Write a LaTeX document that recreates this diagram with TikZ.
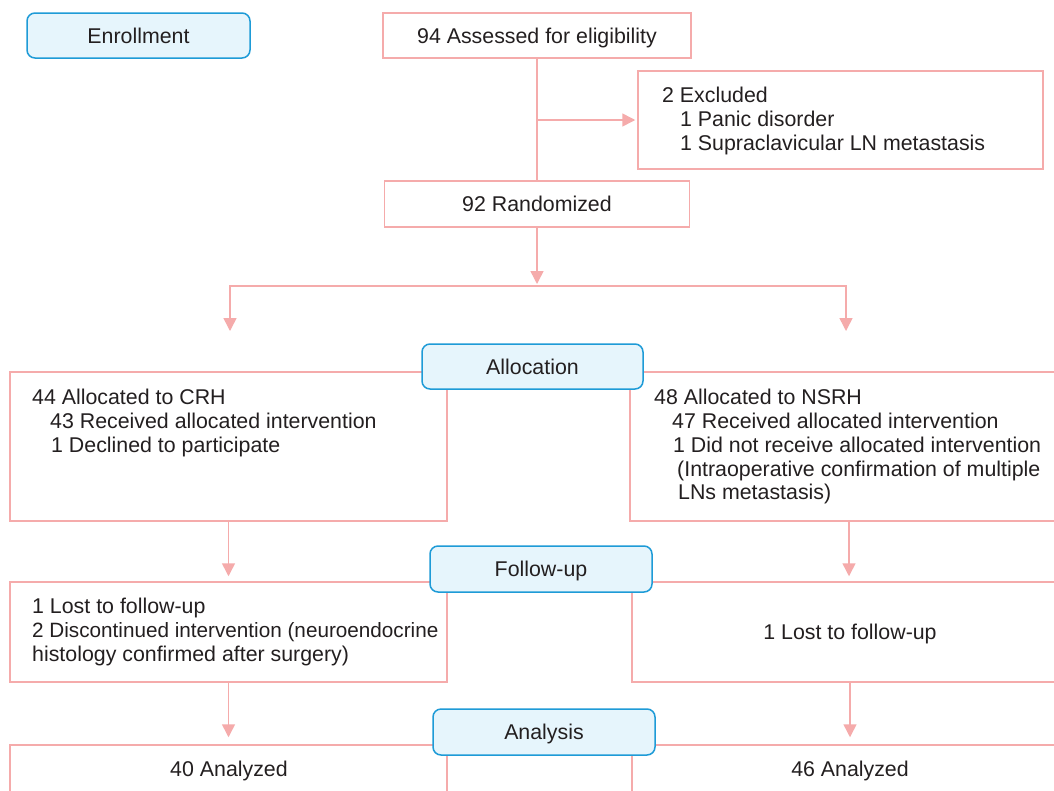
\documentclass[tikz,border=0pt]{standalone}
\usepackage{fontspec}
\setmainfont{Liberation Sans}
\usetikzlibrary{arrows.meta}
\definecolor{pinkline}{HTML}{F5ABAB}
\definecolor{blueline}{HTML}{1E9BD7}
\definecolor{bluefill}{HTML}{E6F5FC}
\definecolor{txt}{HTML}{231F20}
\newcommand{\diagfont}{\fontsize{21.35}{24}\selectfont}
\begin{document}
\begin{tikzpicture}[x=1pt,y=-1pt,
  pbox/.style={draw=pinkline,line width=1.5pt,rectangle,inner sep=0pt,
    font=\diagfont,text=txt,text height=15pt,text depth=0pt},
  bbox/.style={draw=blueline,fill=bluefill,line width=1.5pt,rounded corners=8pt,
    minimum height=45pt,inner sep=0pt,font=\diagfont,
    text=txt,text height=15pt,text depth=0pt},
  txtn/.style={anchor=base west,inner sep=0pt,font=\diagfont,text=txt},
  ctxt/.style={anchor=base,inner sep=0pt,font=\diagfont,text=txt},
  conn/.style={draw=pinkline,line width=1.5pt},
  arr/.style={conn,-{Triangle[length=13pt,width=13pt]}},
  darr/.style={conn,{Triangle[length=13pt,width=13pt]}-{Triangle[length=13pt,width=13pt]}}]
\clip (0,0) rectangle (1054,790);
\fill[white] (0,0) rectangle (1054,790);

% top part
\node[bbox,minimum width=223pt] (enroll) at (138.5,35.5) {Enrollment};
\node[pbox,minimum width=308pt,minimum height=45pt] (assess) at (537,35.5) {94 Assessed for eligibility};
\node[pbox,minimum width=405pt,minimum height=98pt] (excl) at (840.5,120) {};
\node[txtn] (exclA) at (662,102) {2 Excluded};
\node[txtn] (exclB) at (680,126) {1 Panic disorder};
\node[txtn] (exclC) at (680,150) {1 Supraclavicular LN metastasis};
\node[pbox,minimum width=305pt,minimum height=46pt] (rand) at (537,204) {92 Randomized};

\draw[conn] (assess.south) -- (rand.north);
\draw[arr,shorten >=2pt] (assess.south |- excl.west) -- (excl.west);

\coordinate (splitTip) at (537,284);
\coordinate (splitL) at (230,286);
\coordinate (splitR) at (846,286);
\coordinate (allocLtip) at (230,331);
\coordinate (allocRtip) at (846,331);
\draw[arr] (rand.south) -- (splitTip);
\draw[darr] (allocLtip) -- (splitL) -- (splitR) -- (allocRtip);

% allocation
\node[pbox,minimum width=437pt,minimum height=149pt] (allocL) at (228.5,446.5) {};
\node[pbox,minimum width=438pt,minimum height=149pt] (allocR) at (849,446.5) {};
\node[txtn] (aL1) at (32,404) {44 Allocated to CRH};
\node[txtn] (aL2) at (50,428) {43 Received allocated intervention};
\node[txtn] (aL3) at (51,452) {1 Declined to participate};
\node[txtn] (aR1) at (654,404) {48 Allocated to NSRH};
\node[txtn] (aR2) at (672,428) {47 Received allocated intervention};
\node[txtn] (aR3) at (673,452) {1 Did not receive allocated intervention};
\node[txtn] (aR4) at (677,476) {(Intraoperative confirmation of multiple};
\node[txtn] (aR5) at (678,499) {LNs metastasis)};
\node[bbox,minimum width=221pt] (allocation) at (532.5,366.5) {Allocation};

% follow-up
\node[pbox,minimum width=437pt,minimum height=100pt] (followL) at (228.5,632) {};
\node[pbox,minimum width=436pt,minimum height=100pt] (followR) at (850,632) {1 Lost to follow-up};
\node[txtn] (fL1) at (32,613) {1 Lost to follow-up};
\node[txtn,font=\fontsize{20.7}{24}\selectfont] (fL2) at (32,637) {2 Discontinued intervention (neuroendocrine};
\node[txtn] (fL3) at (32,661) {histology confirmed after surgery)};
\node[bbox,minimum width=222pt,minimum height=46pt] (followup) at (541,569) {Follow-up};

\draw[arr,shorten >=5pt] (allocL.south) -- (followL.north);
\draw[arr,shorten >=5pt] (allocR.south) -- (allocR.south |- followR.north);

% analysis
\node[pbox,minimum width=437pt,minimum height=60pt] (anaL) at (228.5,775) {};
\node[pbox,minimum width=436pt,minimum height=60pt] (anaR) at (850,775) {};
\node[ctxt] (anaLt) at (229,776) {40 Analyzed};
\node[ctxt] (anaRt) at (850,776) {46 Analyzed};
\node[bbox,minimum width=222pt,minimum height=46pt] (analysis) at (544,732) {Analysis};

\draw[arr,shorten >=7pt] (followL.south) -- (anaL.north);
\draw[arr,shorten >=7pt] (followR.south) -- (anaR.north);
\end{tikzpicture}
\end{document}
